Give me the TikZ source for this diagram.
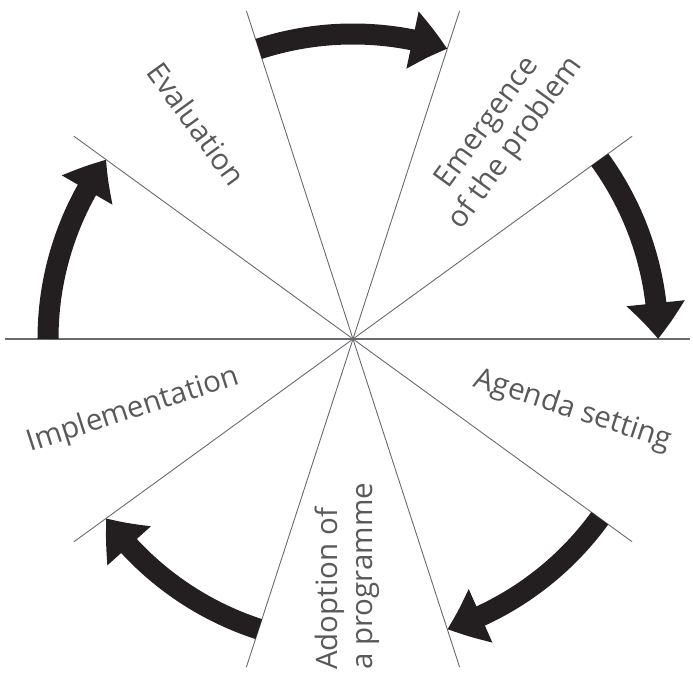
\documentclass[tikz,border=0pt]{standalone}
\usepackage{fontspec}
\setmainfont{Open Sans}
\usepackage{xcolor}
\usepackage{tikz}
\usetikzlibrary{arrows.meta, bending}
\definecolor{spoke}{RGB}{105,106,109}
\definecolor{label}{RGB}{88,89,91}
\definecolor{ink}{RGB}{35,31,32}
\tikzset{every picture/.style={x=1pt,y=1pt},
  spoke/.style={draw=spoke, line width=0.9pt},
  cyclearrow/.style={draw=ink, line width=21pt, -{Triangle[width=56pt,length=36pt,bend]}},
  stage/.style={text=label, font=\fontsize{29.5}{35}\selectfont, align=center, inner sep=0pt}}

\begin{document}
\begin{tikzpicture}
    \useasboundingbox (-353,-338) rectangle (340,339);

    \coordinate (c) at (0,0);

    \draw[spoke, line width=1.3pt](c)--(-348,0);
    \draw[spoke, line width=1.3pt](c)--(337,0);
    \draw[spoke](c)--(36:345);
    \draw[spoke](c)--(216:345);
    \draw[spoke](c)--(72:345);
    \draw[spoke](c)--(252:345);
    \draw[spoke](c)--(108:345);
    \draw[spoke](c)--(288:345);
    \draw[spoke](c)--(144:345);
    \draw[spoke](c)--(324:345);

    \draw[cyclearrow](108:305) arc[start angle=108, end angle=72, radius=305];
    \draw[cyclearrow](36:305) arc[start angle=36, end angle=0, radius=305];
    \draw[cyclearrow](-36:305) arc[start angle=-36, end angle=-72, radius=305];
    \draw[cyclearrow](-108:305) arc[start angle=-108, end angle=-144, radius=305];
    \draw[cyclearrow](180:305) arc[start angle=180, end angle=144, radius=305];

    \node[stage, rotate=-54](evaluation) at (126:266){Evaluation};
    \node[stage, rotate=54](emergence) at (54:254){Emergence\\of the problem};
    \node[stage, rotate=-18](agenda) at (-18:231){Agenda setting};
    \node[stage, rotate=90, anchor=west, align=left](adoption) at (-6,-331){Adoption of\\a programme};
    \node[stage, rotate=18](implementation) at (198:231){Implementation};
  \end{tikzpicture}
\end{document}
